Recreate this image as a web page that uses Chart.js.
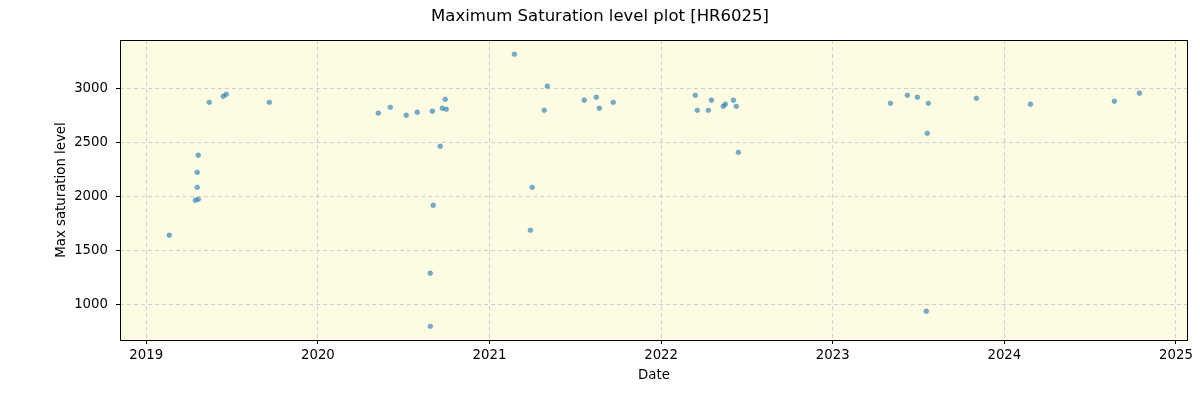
<!DOCTYPE html>
<html>
<head>
<meta charset="utf-8">
<script src="https://cdn.jsdelivr.net/npm/chart.js@4/dist/chart.umd.min.js"></script>
<style>
  html, body { margin: 0; padding: 0; background: #fff; }
  #wrap { width: 1200px; height: 400px; }
</style>
</head>
<body>
<div id="wrap"><canvas id="chart" width="1200" height="400"></canvas></div>
<script>
// dates as decimal years
var dates = [
  2019.134, 2019.286, 2019.303, 2019.297, 2019.297, 2019.303, 2019.367, 2019.449, 2019.466, 2019.717,
  2020.352, 2020.422, 2020.515, 2020.579, 2020.667, 2020.725, 2020.742, 2020.748, 2020.713, 2020.672,
  2020.655, 2020.655, 2021.145, 2021.337, 2021.319, 2021.249, 2021.238, 2021.552, 2021.622, 2021.640,
  2021.721, 2022.199, 2022.211, 2022.293, 2022.275, 2022.362, 2022.374, 2022.421, 2022.438, 2022.450,
  2023.336, 2023.435, 2023.493, 2023.557, 2023.551, 2023.545, 2023.837, 2024.152, 2024.641, 2024.787
];
var maxSat = [
  1639, 1963, 1972, 2083, 2222, 2380, 2870, 2926, 2944, 2870,
  2769, 2824, 2750, 2778, 2787, 2815, 2898, 2806, 2463, 1917,
  1287, 796, 3315, 3019, 2796, 2083, 1685, 2889, 2917, 2815,
  2870, 2935, 2796, 2889, 2796, 2833, 2852, 2889, 2833, 2407,
  2861, 2935, 2917, 2861, 2583, 935, 2907, 2852, 2880, 2954
];
var xTicks = [2019, 2020, 2021, 2022, 2023, 2024, 2025];
var yTicks = [1000, 1500, 2000, 2500, 3000];

var points = [];
for (let i = 0; i < dates.length; i++) {
  points.push({ x: dates[i], y: maxSat[i] });
}

var font = "'DejaVu Sans', sans-serif";

// plot background, frame and title
const decor = {
  id: "decor",
  beforeDraw(chart) {
    var ctx = chart.ctx, a = chart.chartArea;
    ctx.save();
    ctx.fillStyle = "#fdfce2";
    ctx.fillRect(a.left, a.top, a.right - a.left, a.bottom - a.top);
    ctx.restore();
  },
  afterDraw(chart) {
    var ctx = chart.ctx, a = chart.chartArea;
    ctx.save();
    ctx.strokeStyle = "#000";
    ctx.lineWidth = 1;
    ctx.strokeRect(a.left + 0.5, a.top + 0.5, a.right - a.left - 1, a.bottom - a.top);
    ctx.fillStyle = "#000";
    ctx.font = "16.5px " + font;
    ctx.textAlign = "center";
    ctx.textBaseline = "middle";
    ctx.fillText("Maximum Saturation level plot [HR6025]", 600, 17);
    ctx.restore();
  }
};

var gridOpts = {
  color: "rgba(176,176,200,0.6)",
  lineWidth: 1,
  tickLength: 4,
  tickColor: "#000",
  tickWidth: 1,
  tickBorderDash: []
};

new Chart(document.getElementById("chart"), {
  type: "scatter",
  data: {
    datasets: [{
      label: "Max saturation level",
      data: points,
      backgroundColor: "rgba(31,119,180,0.6)",
      borderColor: "rgba(31,119,180,0.6)",
      borderWidth: 0.5,
      pointRadius: 2.4
    }]
  },
  options: {
    responsive: false,
    animation: false,
    layout: { padding: { top: 40, right: 12, left: 50, bottom: 12 } },
    plugins: {
      legend: { display: false },
      tooltip: { enabled: false },
      title: { display: false }
    },
    scales: {
      x: {
        type: "linear",
        min: 2018.847,
        max: 2025.07,
        afterBuildTicks: (s) => { s.ticks = xTicks.map(v => ({ value: v })); },
        afterFit: (s) => { s.height = 48; },
        ticks: {
          color: "#000",
          padding: 4,
          maxRotation: 0,
          font: { family: font, size: 13.3 },
          callback: (v) => String(v)
        },
        grid: gridOpts,
        border: { display: false, dash: [4, 3] },
        title: {
          display: true,
          text: "Date",
          color: "#000",
          font: { family: font, size: 13.3 },
          padding: { top: 4, bottom: 4 }
        }
      },
      y: {
        min: 669,
        max: 3447,
        afterBuildTicks: (s) => { s.ticks = yTicks.map(v => ({ value: v })); },
        afterFit: (s) => { s.width = 70; },
        ticks: {
          color: "#000",
          padding: 8,
          font: { family: font, size: 13.3 },
          callback: (v) => String(v)
        },
        grid: gridOpts,
        border: { display: false, dash: [4, 3] },
        title: {
          display: true,
          text: "Max saturation level",
          color: "#000",
          font: { family: font, size: 13.3 },
          padding: { top: 4, bottom: 4 }
        }
      }
    }
  },
  plugins: [decor]
});
</script>
</body>
</html>
